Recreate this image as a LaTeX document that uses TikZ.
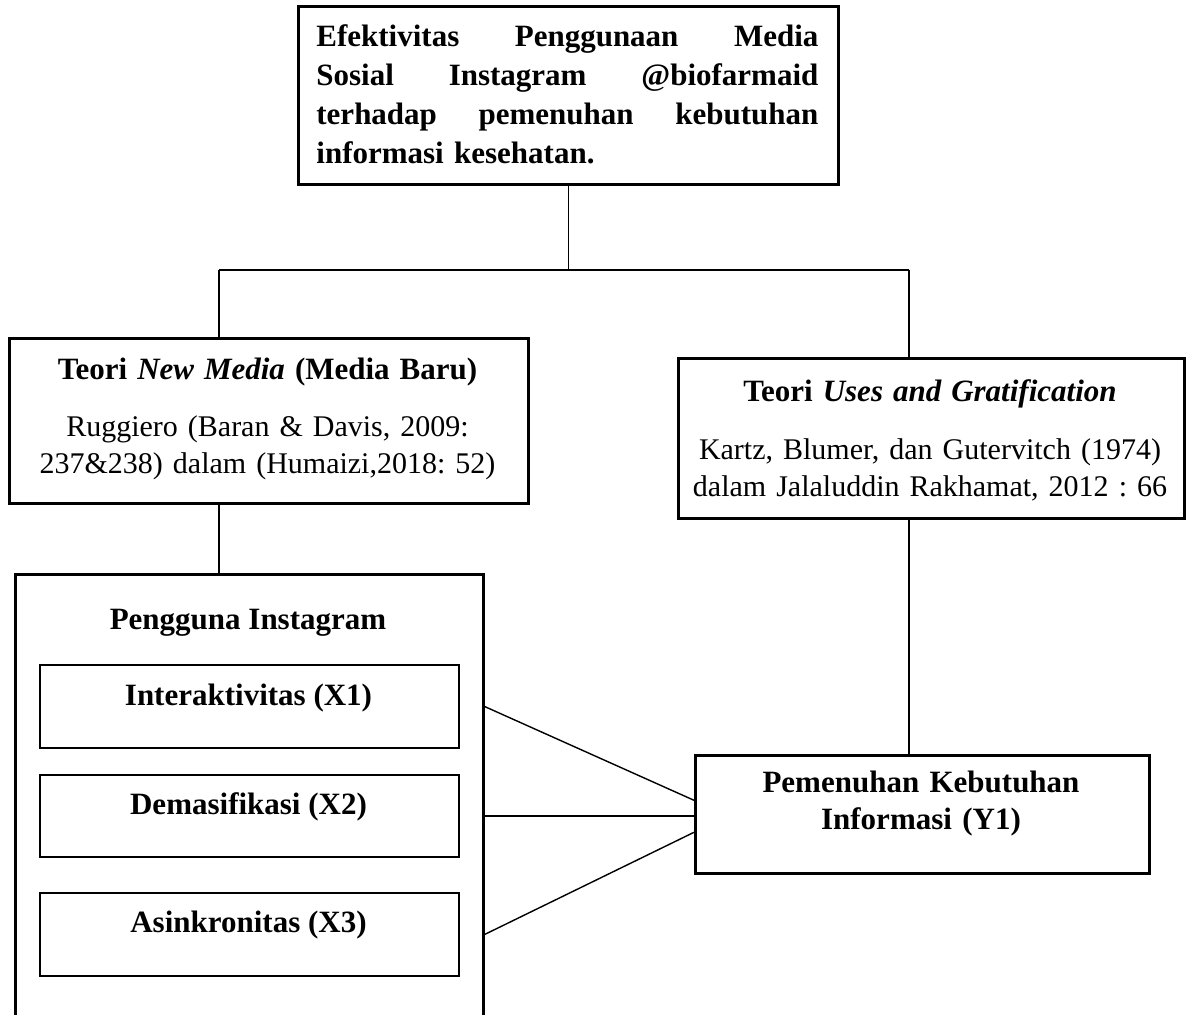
\documentclass[tikz,border=0pt]{standalone}
\usepackage{fontspec}
\setmainfont{Liberation Serif}
\frenchspacing
\usetikzlibrary{positioning,calc}
\tikzset{
  frame/.style={draw=black,line width=1.3pt,inner sep=0pt,anchor=north west},
  thinframe/.style={draw=black,line width=1pt,inner sep=0pt,anchor=north west},
  txt/.style={inner sep=0pt,font=\fontsize{15}{18.5}\selectfont,align=center},
  boldtxt/.style={txt,font=\fontsize{15.5}{18.5}\selectfont\bfseries},
  link/.style={draw=black,line width=0.7pt}
}
\begin{document}
\begin{tikzpicture}[x=0.5pt,y=-0.5pt]
  \useasboundingbox (0,0) rectangle (1196,1015);
  % kotak
  \node[frame,minimum width=270pt,minimum height=89pt] (judul) at (297,5) {};
  \node[frame,minimum width=259.5pt,minimum height=82.5pt] (newmedia) at (8,337) {};
  \node[frame,minimum width=253pt,minimum height=80pt] (usesgrat) at (677,357) {};
  \node[frame,minimum width=234pt,minimum height=240pt] (pengguna) at (14,573) {};
  \node[thinframe,minimum width=209.5pt,minimum height=41.5pt] (x1) at (39,664) {};
  \node[thinframe,minimum width=209.5pt,minimum height=41pt] (x2) at (39,774) {};
  \node[thinframe,minimum width=209.5pt,minimum height=41.5pt] (x3) at (39,892) {};
  \node[frame,minimum width=227pt,minimum height=59pt] (y1) at (694,754) {};
  % teks
  \node[boldtxt,font=\fontsize{15.5}{19.5}\selectfont\bfseries,text width=251pt,align=left,anchor=base west] (judultxt) at (316,47)
    {\makebox[251pt]{Efektivitas\hfill Penggunaan\hfill Media}\\
     \makebox[251pt]{Sosial\hfill Instagram\hfill @biofarmaid}\\
     \makebox[251pt]{terhadap\hfill pemenuhan\hfill kebutuhan}\\
     informasi kesehatan.};
  \node[txt,text width=255pt,anchor=base] (newmediatxt) at (267.5,380)
    {{\fontsize{15.5}{18.5}\selectfont\bfseries Teori \textit{New Media} (Media Baru)}\\[10pt]
     Ruggiero (Baran \& Davis, 2009:\\
     237\&238) dalam (Humaizi,2018: 52)};
  \node[txt,text width=250pt,anchor=base] (usesgrattxt) at (930,402)
    {{\fontsize{15.5}{18.5}\selectfont\bfseries Teori \textit{Uses and Gratification}}\\[10.5pt]
     Kartz, Blumer, dan Gutervitch (1974)\\
     dalam Jalaluddin Rakhamat, 2012 : 66};
  \node[boldtxt,anchor=base] (penggunatxt) at (248,630) {Pengguna Instagram};
  \node[boldtxt,anchor=base] (x1txt) at (248.5,706) {Interaktivitas (X1)};
  \node[boldtxt,anchor=base] (x2txt) at (248.5,815) {Demasifikasi (X2)};
  \node[boldtxt,anchor=base] (x3txt) at (248.5,933) {Asinkronitas (X3)};
  \node[boldtxt,text width=225pt,anchor=base] (y1txt) at (921,793)
    {Pemenuhan Kebutuhan\\Informasi (Y1)};
  % garis
  \coordinate (barL) at (219,270);
  \coordinate (barR) at (909,270);
  \draw[link] (judul.south) -- (judul.south |- barL);
  \draw[link] (barL) -- (barR);
  \draw[link] (barL) -- (barL |- newmedia.north);
  \draw[link] (barR) -- (barR |- usesgrat.north);
  \draw[link] (barL |- newmedia.south) -- (barL |- pengguna.north);
  \draw[link] (barR |- usesgrat.south) -- (barR |- y1.north);
  \draw[link] (x1.east -| pengguna.east) -- ([yshift=7pt]y1.west);
  \draw[link] (x2.east -| pengguna.east) -- (x2.east -| y1.west);
  \draw[link] (x3.east -| pengguna.east) -- ([yshift=-9pt]y1.west);
\end{tikzpicture}
\end{document}
